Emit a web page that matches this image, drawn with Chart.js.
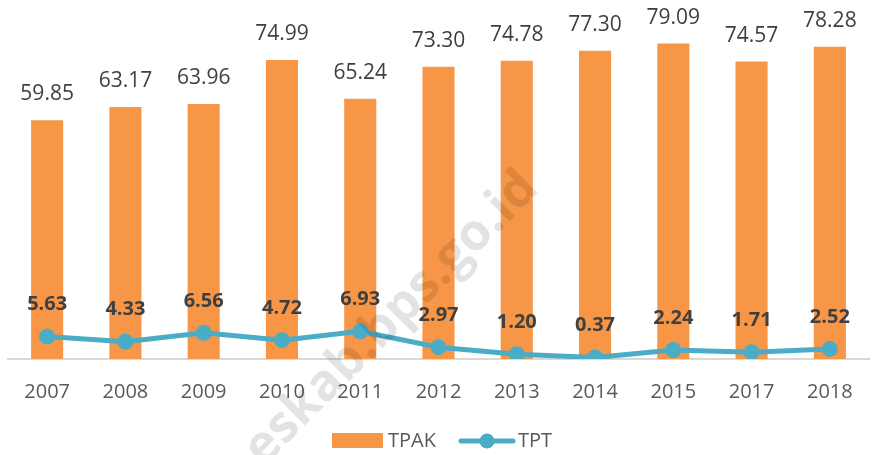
<!DOCTYPE html>
<html>
<head>
<meta charset="utf-8">
<script src="https://cdn.jsdelivr.net/npm/chart.js@4.4.1/dist/chart.umd.min.js"></script>
<style>
  html, body { margin: 0; padding: 0; background: #fff; }
  #wrap { width: 877px; height: 455px; position: relative; }
</style>
</head>
<body>
<div id="wrap"><canvas id="tenagaKerjaChart" width="877" height="455"></canvas></div>
<script>
const years = ['2007', '2008', '2009', '2010', '2011', '2012', '2013', '2014', '2015', '2017', '2018'];
const tpak = [59.85, 63.17, 63.96, 74.99, 65.24, 73.30, 74.78, 77.30, 79.09, 74.57, 78.28];
const tpt = [5.63, 4.33, 6.56, 4.72, 6.93, 2.97, 1.20, 0.37, 2.24, 1.71, 2.52];

const ORANGE = '#F79646';
const TEAL = '#4BACC6';
const FONT = "'Open Sans', sans-serif";

// label angka di atas batang dan titik
const valueLabels = {
  id: 'valueLabels',
  afterDatasetsDraw(chart) {
    const ctx = chart.ctx;
    ctx.save();
    ctx.textAlign = 'center';
    ctx.textBaseline = 'middle';
    chart.getDatasetMeta(0).data.forEach((bar, i) => {
      ctx.font = '21px ' + FONT;
      ctx.fillStyle = '#404040';
      ctx.fillText(tpak[i].toFixed(2), bar.x, bar.y - 26);
    });
    chart.getDatasetMeta(1).data.forEach((pt, i) => {
      ctx.font = 'bold 20px ' + FONT;
      ctx.fillStyle = '#404040';
      ctx.fillText(tpt[i].toFixed(2), pt.x, pt.y - 32);
    });
    ctx.restore();
  }
};

// legenda manual (batang + garis dengan titik)
const customLegend = {
  id: 'customLegend',
  afterDraw(chart) {
    const ctx = chart.ctx;
    ctx.save();
    ctx.font = '20px ' + FONT;
    ctx.textBaseline = 'middle';
    ctx.fillStyle = ORANGE;
    ctx.fillRect(332, 433, 51, 15);
    ctx.fillStyle = '#595959';
    ctx.fillText('TPAK', 388, 441);
    ctx.strokeStyle = TEAL;
    ctx.lineWidth = 5;
    ctx.lineCap = 'round';
    ctx.beginPath();
    ctx.moveTo(461, 441);
    ctx.lineTo(513, 441);
    ctx.stroke();
    ctx.fillStyle = TEAL;
    ctx.beginPath();
    ctx.arc(487, 441, 7.5, 0, Math.PI * 2);
    ctx.fill();
    ctx.fillStyle = '#595959';
    ctx.fillText('TPT', 518, 441);
    ctx.restore();
  }
};

// watermark
const watermark = {
  id: 'watermark',
  afterDraw(chart) {
    const ctx = chart.ctx;
    ctx.save();
    ctx.translate(530, 180);
    ctx.rotate(-45 * Math.PI / 180);
    ctx.font = 'bold 51px ' + FONT;
    ctx.fillStyle = 'rgba(0, 0, 0, 0.11)';
    ctx.textAlign = 'right';
    ctx.textBaseline = 'middle';
    ctx.fillText('eskab.bps.go.id', 0, 0);
    ctx.restore();
  }
};

new Chart(document.getElementById('tenagaKerjaChart'), {
  type: 'bar',
  data: {
    labels: years,
    datasets: [
      {
        type: 'bar',
        label: 'TPAK',
        data: tpak,
        backgroundColor: ORANGE,
        categoryPercentage: 1,
        barPercentage: 0.41,
        order: 2
      },
      {
        type: 'line',
        label: 'TPT',
        data: tpt,
        borderColor: TEAL,
        backgroundColor: TEAL,
        borderWidth: 5,
        pointRadius: 8,
        pointHoverRadius: 8,
        pointBorderWidth: 0,
        tension: 0,
        order: 1
      }
    ]
  },
  options: {
    responsive: false,
    animation: false,
    layout: { padding: { left: 3, right: 2, top: 0, bottom: 0 } },
    plugins: {
      legend: { display: false },
      tooltip: { enabled: false }
    },
    scales: {
      y: {
        display: false,
        min: 0,
        max: 88
      },
      x: {
        grid: { display: false },
        border: { display: true, color: '#D9D9D9', width: 2 },
        ticks: {
          color: '#595959',
          font: { family: FONT, size: 20 },
          padding: 13,
          maxRotation: 0
        },
        afterFit(scale) {
          scale.height = 96;
        }
      }
    }
  },
  plugins: [valueLabels, customLegend, watermark]
});
</script>
</body>
</html>
